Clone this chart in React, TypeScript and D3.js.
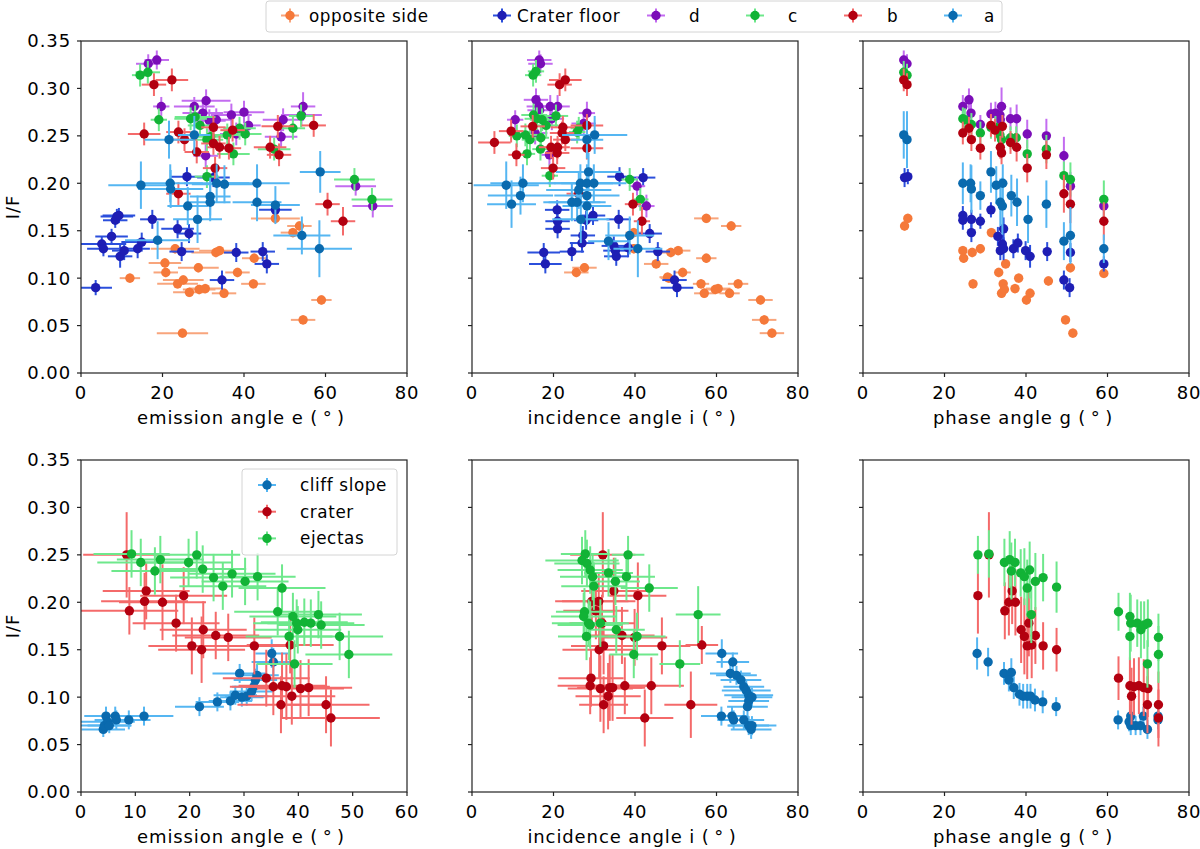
import * as d3 from 'd3';

type Pt = [number, number, number, number]; // x, I/F, xerr, yerr

interface Series {
    label: string;
    marker: string;
    err: string;
    pts: Pt[];
}

// colours
const cOpp = { marker: '#f5793a', err: '#f8a57c' };
const cFloor = { marker: '#1e1eb4', err: '#2b4fdc' };
const cD = { marker: '#7b0db8', err: '#c36cf0' };
const cC = { marker: '#12b336', err: '#6ee88c' };
const cB = { marker: '#b30010', err: '#f46a6a' };
const cA = { marker: '#0a6aae', err: '#55b6f2' };

const yTicks = [0, 0.05, 0.1, 0.15, 0.2, 0.25, 0.3, 0.35];
const xTicks80 = [0, 20, 40, 60, 80];
const xTicks60 = [0, 10, 20, 30, 40, 50, 60];

// ---------- top row : emission angle ----------
const emOpposite: Pt[] = [
    [12.0, 0.100, 2.5, 0.005], [20.6, 0.116, 4, 0.005], [20.8, 0.106, 3, 0.005], [23.1, 0.131, 6, 0.005],
    [23.7, 0.094, 5, 0.005], [25.1, 0.098, 5, 0.005], [26.6, 0.085, 4, 0.005], [28.8, 0.111, 5, 0.005],
    [29.0, 0.088, 4, 0.005], [30.5, 0.089, 4, 0.005], [33.1, 0.127, 6, 0.005], [34.0, 0.129, 5, 0.005],
    [35.1, 0.084, 3, 0.005], [38.4, 0.106, 3, 0.005], [42.3, 0.094, 3, 0.005], [42.5, 0.121, 3, 0.005],
    [47.7, 0.163, 6, 0.005], [52.0, 0.148, 3, 0.005], [53.6, 0.155, 3, 0.005], [54.5, 0.056, 3, 0.005],
    [59.0, 0.077, 2.5, 0.005], [24.9, 0.042, 6.3, 0.005],
];
const emFloor: Pt[] = [
    [3.6, 0.090, 4, 0.008], [5.1, 0.136, 6, 0.008], [5.5, 0.131, 4, 0.008], [7.5, 0.144, 4, 0.008],
    [8.4, 0.161, 3, 0.008], [8.8, 0.165, 4, 0.008], [9.3, 0.166, 4, 0.008], [9.6, 0.123, 3, 0.012],
    [10.6, 0.129, 3, 0.01], [13.9, 0.131, 3, 0.01], [14.9, 0.138, 5, 0.01], [17.5, 0.162, 3, 0.01],
    [23.7, 0.152, 4, 0.01], [24.7, 0.128, 3, 0.01], [26.0, 0.207, 4, 0.01], [26.5, 0.147, 3, 0.01],
    [32.5, 0.206, 4, 0.01], [34.6, 0.098, 3, 0.01], [38.1, 0.127, 3, 0.01], [44.6, 0.128, 3, 0.01],
    [45.6, 0.115, 3, 0.01], [47.7, 0.172, 4, 0.01],
];
const emD: Pt[] = [
    [16.5, 0.326, 3, 0.01], [18.6, 0.330, 3, 0.01], [19.7, 0.281, 2, 0.01], [27.8, 0.281, 5, 0.01],
    [30.7, 0.287, 6, 0.012], [29.9, 0.274, 5, 0.012], [31.5, 0.266, 4, 0.012], [33.2, 0.267, 4, 0.012],
    [36.9, 0.272, 5, 0.012], [40.0, 0.275, 5, 0.012], [41.1, 0.261, 3, 0.012], [38.1, 0.252, 4, 0.012],
    [30.6, 0.229, 3, 0.012], [49.6, 0.267, 5, 0.012], [49.1, 0.249, 4, 0.012], [54.1, 0.272, 5, 0.012],
    [54.5, 0.281, 3, 0.015], [67.4, 0.197, 5, 0.01], [71.6, 0.176, 5, 0.012],
];
const emC: Pt[] = [
    [14.5, 0.314, 2, 0.012], [16.4, 0.317, 3, 0.012], [19.1, 0.267, 2, 0.012], [26.9, 0.268, 4, 0.012],
    [28.0, 0.270, 5, 0.012], [29.2, 0.261, 3, 0.012], [30.9, 0.246, 4, 0.012], [31.8, 0.249, 4, 0.012],
    [35.9, 0.251, 4, 0.012], [38.9, 0.258, 4, 0.012], [40.3, 0.252, 4, 0.012], [37.4, 0.231, 4, 0.012],
    [47.4, 0.236, 4, 0.012], [52.0, 0.258, 3, 0.012], [54.0, 0.271, 3, 0.012], [30.9, 0.207, 3, 0.012],
    [67.1, 0.204, 5, 0.012], [71.4, 0.183, 5, 0.012],
];
const emB: Pt[] = [
    [17.9, 0.304, 3, 0.012], [22.3, 0.309, 4, 0.012], [15.5, 0.252, 4, 0.012], [23.9, 0.254, 3, 0.012],
    [25.4, 0.246, 3, 0.012], [28.4, 0.233, 3, 0.012], [32.5, 0.259, 3, 0.012], [32.5, 0.242, 3, 0.012],
    [34.0, 0.238, 3, 0.012], [36.3, 0.237, 3, 0.012], [37.2, 0.256, 3, 0.012], [32.9, 0.216, 3, 0.012],
    [23.9, 0.189, 3, 0.012], [48.3, 0.260, 4, 0.012], [46.4, 0.238, 4, 0.012], [48.6, 0.230, 3, 0.012],
    [57.1, 0.261, 3, 0.012], [60.5, 0.178, 3, 0.012], [64.3, 0.160, 3, 0.015],
];
const emA: Pt[] = [
    [21.6, 0.246, 6, 0.02], [27.8, 0.251, 4, 0.02], [14.7, 0.198, 8, 0.025], [21.9, 0.200, 8, 0.02],
    [22.0, 0.194, 8, 0.02], [26.2, 0.176, 5, 0.02], [28.6, 0.162, 6, 0.025], [18.8, 0.140, 8, 0.02],
    [31.7, 0.186, 5, 0.02], [31.7, 0.180, 5, 0.02], [33.3, 0.200, 8, 0.02], [35.2, 0.199, 8, 0.02],
    [43.2, 0.200, 8, 0.02], [43.2, 0.180, 6, 0.02], [47.7, 0.177, 6, 0.02], [58.7, 0.212, 5, 0.022],
    [54.2, 0.145, 7, 0.02], [58.5, 0.131, 8, 0.03],
];

// ---------- top row : incidence angle ----------
const inOpposite: Pt[] = [
    [57.5, 0.163, 3, 0.005], [63.6, 0.155, 2.5, 0.005], [57.5, 0.121, 2.5, 0.005], [48.8, 0.127, 3, 0.005],
    [50.6, 0.129, 3, 0.005], [39.7, 0.148, 2, 0.005], [39.7, 0.131, 2, 0.005], [45.2, 0.115, 3, 0.005],
    [48.3, 0.100, 2, 0.005], [51.7, 0.106, 2, 0.005], [25.6, 0.106, 3, 0.005], [27.6, 0.111, 3, 0.005],
    [56.2, 0.094, 2, 0.005], [57.0, 0.084, 2.5, 0.005], [59.7, 0.088, 3, 0.005], [60.4, 0.089, 3, 0.005],
    [63.2, 0.084, 2.5, 0.005], [65.3, 0.094, 2.5, 0.005], [70.8, 0.077, 3, 0.005], [71.7, 0.056, 3, 0.005],
    [73.6, 0.042, 3, 0.005], [48.0, 0.101, 2, 0.005],
];
const inFloor: Pt[] = [
    [20.9, 0.172, 3, 0.01], [21.0, 0.160, 3, 0.01], [21.0, 0.152, 3, 0.01], [36.2, 0.207, 3, 0.01],
    [42.0, 0.206, 3, 0.01], [29.7, 0.166, 3, 0.01], [28.0, 0.161, 3, 0.01], [36.0, 0.162, 3, 0.01],
    [27.2, 0.145, 3, 0.01], [27.0, 0.137, 3, 0.01], [43.6, 0.147, 3, 0.01], [17.6, 0.127, 4, 0.01],
    [18.0, 0.115, 4, 0.01], [24.5, 0.128, 3, 0.01], [34.8, 0.134, 3, 0.01], [35.2, 0.129, 3, 0.01],
    [35.4, 0.123, 3, 0.01], [38.3, 0.132, 3, 0.01], [45.6, 0.128, 3, 0.01], [49.7, 0.098, 3, 0.01],
    [50.3, 0.090, 4, 0.01],
];
const inD: Pt[] = [
    [16.5, 0.330, 3, 0.01], [16.8, 0.326, 3, 0.01], [10.6, 0.267, 2, 0.01], [15.7, 0.288, 3, 0.012],
    [16.4, 0.281, 3, 0.012], [16.6, 0.277, 3, 0.012], [19.2, 0.281, 2, 0.012], [21.0, 0.281, 3, 0.012],
    [19.6, 0.268, 3, 0.012], [28.2, 0.274, 2, 0.012], [27.4, 0.263, 3, 0.012], [15.5, 0.253, 3, 0.012],
    [19.0, 0.230, 2, 0.012], [40.5, 0.197, 2, 0.01], [42.8, 0.176, 2, 0.012],
];
const inC: Pt[] = [
    [15.0, 0.314, 2, 0.012], [15.7, 0.318, 2, 0.012], [15.1, 0.272, 3, 0.012], [15.9, 0.268, 3, 0.012],
    [17.2, 0.267, 3, 0.012], [18.2, 0.261, 3, 0.012], [20.6, 0.271, 3, 0.012], [11.0, 0.250, 2, 0.012],
    [13.1, 0.251, 3, 0.012], [14.2, 0.246, 2, 0.012], [16.9, 0.248, 2, 0.012], [16.8, 0.236, 2, 0.012],
    [13.5, 0.231, 2, 0.012], [19.1, 0.208, 2, 0.012], [25.8, 0.254, 2, 0.012], [26.2, 0.258, 2, 0.012],
    [38.7, 0.204, 2, 0.012], [41.3, 0.183, 2, 0.012],
];
const inB: Pt[] = [
    [21.5, 0.304, 3, 0.012], [22.9, 0.309, 4, 0.012], [5.5, 0.243, 4, 0.012], [9.6, 0.255, 3, 0.012],
    [10.9, 0.230, 2, 0.012], [14.9, 0.260, 3, 0.012], [22.3, 0.259, 3, 0.012], [22.1, 0.253, 3, 0.012],
    [22.9, 0.246, 3, 0.012], [19.4, 0.238, 3, 0.012], [21.0, 0.238, 3, 0.012], [20.9, 0.232, 3, 0.012],
    [19.9, 0.216, 3, 0.012], [28.2, 0.261, 4, 0.012], [28.2, 0.237, 4, 0.012], [26.2, 0.189, 3, 0.012],
    [39.5, 0.178, 2, 0.012], [41.7, 0.160, 2, 0.015],
];
const inA: Pt[] = [
    [28.2, 0.246, 4, 0.02], [30.1, 0.251, 8, 0.02], [8.4, 0.198, 8, 0.025], [12.5, 0.200, 8, 0.02],
    [11.9, 0.187, 8, 0.02], [9.7, 0.178, 6, 0.025], [28.6, 0.212, 8, 0.02], [26.6, 0.200, 8, 0.02],
    [26.2, 0.193, 8, 0.02], [28.2, 0.200, 8, 0.02], [29.9, 0.200, 8, 0.02], [28.2, 0.187, 8, 0.02],
    [24.5, 0.180, 7, 0.02], [25.8, 0.180, 7, 0.02], [28.2, 0.176, 6, 0.02], [26.7, 0.162, 7, 0.025],
    [38.7, 0.145, 6, 0.02], [33.5, 0.139, 5, 0.02], [40.7, 0.131, 6, 0.03],
];

// ---------- top row : phase angle ----------
const phOpposite: Pt[] = [
    [10.2, 0.155, 0.5, 0.005], [11.0, 0.163, 0.5, 0.005], [24.5, 0.129, 0.5, 0.005], [24.7, 0.121, 0.5, 0.005],
    [26.8, 0.127, 0.5, 0.005], [28.8, 0.131, 0.5, 0.005], [27.0, 0.094, 0.5, 0.005], [31.5, 0.148, 0.5, 0.005],
    [33.3, 0.106, 0.5, 0.005], [35.0, 0.115, 0.5, 0.005], [34.4, 0.094, 0.5, 0.005], [34.0, 0.084, 0.5, 0.005],
    [34.7, 0.088, 0.5, 0.005], [37.3, 0.089, 0.5, 0.005], [38.2, 0.100, 0.5, 0.005], [40.1, 0.077, 0.5, 0.005],
    [41.0, 0.084, 0.5, 0.005], [45.5, 0.097, 0.5, 0.005], [50.9, 0.111, 0.5, 0.005], [49.7, 0.056, 0.5, 0.005],
    [51.5, 0.042, 0.5, 0.005], [59.1, 0.105, 0.5, 0.005],
];
const phFloor: Pt[] = [
    [10.2, 0.206, 0.5, 0.01], [11.0, 0.207, 0.5, 0.008], [24.5, 0.166, 0.5, 0.01], [24.5, 0.161, 0.5, 0.01],
    [26.6, 0.162, 0.5, 0.01], [26.6, 0.148, 0.5, 0.01], [28.8, 0.160, 0.5, 0.008], [31.4, 0.172, 0.5, 0.008],
    [33.1, 0.144, 0.5, 0.01], [34.5, 0.152, 0.5, 0.012], [33.7, 0.129, 0.5, 0.01], [34.2, 0.136, 0.5, 0.01],
    [34.5, 0.131, 0.5, 0.012], [36.9, 0.131, 0.5, 0.01], [38.0, 0.137, 0.5, 0.01], [39.9, 0.129, 0.5, 0.01],
    [41.0, 0.123, 0.5, 0.012], [45.2, 0.128, 0.5, 0.01], [49.3, 0.098, 0.5, 0.01], [50.9, 0.127, 0.5, 0.01],
    [50.7, 0.090, 0.5, 0.01], [59.1, 0.115, 0.5, 0.008],
];
const phD: Pt[] = [
    [10.0, 0.330, 0.5, 0.01], [10.8, 0.326, 0.5, 0.01], [24.5, 0.281, 0.5, 0.012], [26.0, 0.288, 0.5, 0.012],
    [26.5, 0.274, 0.5, 0.012], [28.8, 0.262, 0.5, 0.01], [31.4, 0.273, 0.5, 0.012], [32.5, 0.274, 0.5, 0.012],
    [33.6, 0.272, 0.5, 0.012], [34.0, 0.281, 0.5, 0.02], [33.7, 0.267, 0.5, 0.015], [36.2, 0.268, 0.5, 0.012],
    [37.7, 0.268, 0.5, 0.015], [40.3, 0.252, 0.5, 0.015], [45.0, 0.250, 0.5, 0.018], [49.3, 0.229, 0.5, 0.02],
    [50.9, 0.197, 0.5, 0.015], [59.1, 0.176, 0.5, 0.012],
];
const phC: Pt[] = [
    [10.0, 0.317, 0.5, 0.012], [10.8, 0.314, 0.5, 0.012], [24.5, 0.268, 0.5, 0.012], [25.0, 0.267, 0.5, 0.012],
    [26.6, 0.262, 0.5, 0.012], [28.8, 0.253, 0.5, 0.012], [31.4, 0.259, 0.5, 0.012], [32.5, 0.259, 0.5, 0.012],
    [33.6, 0.251, 0.5, 0.012], [34.0, 0.246, 0.5, 0.012], [36.2, 0.248, 0.5, 0.012], [37.6, 0.248, 0.5, 0.012],
    [40.3, 0.231, 0.5, 0.015], [45.0, 0.236, 0.5, 0.015], [49.3, 0.208, 0.5, 0.015], [50.9, 0.204, 0.5, 0.018],
    [59.1, 0.183, 0.5, 0.02],
];
const phB: Pt[] = [
    [10.0, 0.309, 0.5, 0.012], [10.8, 0.304, 0.5, 0.012], [24.5, 0.253, 0.5, 0.012], [26.0, 0.258, 0.5, 0.012],
    [26.6, 0.246, 0.5, 0.012], [28.8, 0.237, 0.5, 0.012], [31.4, 0.261, 0.5, 0.012], [32.4, 0.256, 0.5, 0.012],
    [33.7, 0.238, 0.5, 0.012], [34.0, 0.232, 0.5, 0.012], [34.2, 0.260, 0.5, 0.012], [36.2, 0.243, 0.5, 0.012],
    [37.7, 0.238, 0.5, 0.015], [40.3, 0.216, 0.5, 0.015], [45.0, 0.230, 0.5, 0.015], [49.3, 0.189, 0.5, 0.02],
    [50.9, 0.178, 0.5, 0.02], [59.1, 0.160, 0.5, 0.02],
];
const phA: Pt[] = [
    [10.0, 0.251, 0.5, 0.025], [10.8, 0.246, 0.5, 0.03], [24.5, 0.200, 0.5, 0.022], [26.4, 0.200, 0.5, 0.02],
    [26.6, 0.194, 0.5, 0.025], [28.8, 0.187, 0.5, 0.015], [31.4, 0.212, 0.5, 0.022], [32.7, 0.198, 0.5, 0.02],
    [34.3, 0.200, 0.5, 0.02], [33.7, 0.180, 0.5, 0.025], [34.2, 0.176, 0.5, 0.03], [36.4, 0.187, 0.5, 0.022],
    [37.8, 0.180, 0.5, 0.025], [40.5, 0.162, 0.5, 0.025], [45.0, 0.178, 0.5, 0.025], [49.3, 0.139, 0.5, 0.02],
    [50.9, 0.145, 0.5, 0.03], [59.1, 0.131, 0.5, 0.015],
];

// ---------- bottom row : emission angle ----------
const emCliff: Pt[] = [
    [4.1, 0.066, 4, 0.008], [4.3, 0.070, 5, 0.008], [4.6, 0.080, 4, 0.01], [4.9, 0.074, 5, 0.01],
    [5.2, 0.070, 4, 0.008], [6.3, 0.080, 4, 0.01], [6.5, 0.076, 4, 0.01], [8.8, 0.076, 4, 0.01],
    [11.6, 0.080, 5.4, 0.01], [21.8, 0.090, 4.5, 0.01], [25.1, 0.095, 4, 0.01], [27.5, 0.096, 4, 0.01],
    [28.4, 0.102, 4, 0.01], [29.2, 0.125, 5, 0.01], [29.6, 0.100, 4, 0.01], [30.5, 0.101, 4, 0.01],
    [31.4, 0.106, 4, 0.01], [31.8, 0.111, 4, 0.01], [32.1, 0.118, 4, 0.012], [32.4, 0.123, 4, 0.012],
    [35.1, 0.146, 3, 0.015], [35.4, 0.137, 4, 0.015],
];
const emCrater: Pt[] = [
    [8.4, 0.250, 8, 0.045], [8.9, 0.191, 9, 0.025], [12.0, 0.212, 8, 0.03], [11.7, 0.201, 8, 0.03],
    [15.0, 0.200, 8, 0.04], [17.5, 0.178, 8, 0.03], [18.9, 0.207, 8, 0.03], [20.4, 0.154, 8, 0.03],
    [22.2, 0.150, 8, 0.035], [22.5, 0.171, 8, 0.03], [24.8, 0.165, 8, 0.025], [27.1, 0.163, 8, 0.025],
    [31.9, 0.154, 8, 0.03], [34.1, 0.120, 8, 0.03], [35.4, 0.111, 8, 0.03], [37.0, 0.112, 8, 0.035],
    [37.8, 0.111, 8, 0.035], [36.8, 0.092, 8, 0.03], [38.5, 0.155, 8, 0.03], [38.8, 0.101, 8, 0.03],
    [40.4, 0.109, 8, 0.03], [41.9, 0.110, 8, 0.03], [45.1, 0.092, 8, 0.03], [46.0, 0.078, 9, 0.03],
];
const emEjecta: Pt[] = [
    [9.3, 0.251, 7, 0.025], [11.0, 0.242, 8, 0.025], [13.6, 0.233, 8, 0.025], [14.6, 0.245, 8, 0.025],
    [19.8, 0.242, 8, 0.025], [21.3, 0.250, 8, 0.025], [22.4, 0.235, 8, 0.025], [24.4, 0.226, 8, 0.025],
    [26.1, 0.217, 8, 0.025], [27.8, 0.230, 8, 0.025], [30.2, 0.222, 8, 0.025], [32.5, 0.227, 7, 0.025],
    [37.0, 0.215, 8, 0.025], [36.2, 0.190, 8, 0.025], [39.0, 0.185, 8, 0.025], [39.7, 0.178, 8, 0.025],
    [39.9, 0.171, 8, 0.025], [41.1, 0.179, 8, 0.025], [42.3, 0.178, 8, 0.025], [43.7, 0.187, 8, 0.025],
    [44.2, 0.176, 8, 0.025], [38.3, 0.164, 8, 0.025], [47.6, 0.164, 8, 0.025], [49.3, 0.145, 8, 0.025],
    [39.3, 0.135, 7, 0.025],
];

// ---------- bottom row : incidence angle ----------
const inCliff: Pt[] = [
    [61.3, 0.146, 4, 0.015], [64.0, 0.137, 4, 0.01], [63.4, 0.125, 5, 0.01], [64.9, 0.123, 5, 0.01],
    [66.0, 0.118, 5, 0.01], [66.7, 0.111, 5, 0.01], [67.3, 0.107, 6, 0.01], [67.9, 0.102, 6, 0.01],
    [68.7, 0.100, 5, 0.01], [67.9, 0.096, 5, 0.01], [67.6, 0.090, 5, 0.01], [61.2, 0.080, 5, 0.01],
    [63.8, 0.080, 4, 0.01], [64.2, 0.076, 4, 0.01], [66.7, 0.076, 5, 0.01], [67.9, 0.070, 5, 0.01],
    [68.5, 0.066, 5, 0.01], [68.7, 0.070, 6, 0.01],
];
const inCrater: Pt[] = [
    [32.1, 0.250, 8, 0.045], [34.8, 0.212, 8, 0.035], [40.7, 0.207, 7, 0.035], [29.4, 0.201, 9, 0.03],
    [31.1, 0.201, 9, 0.03], [30.4, 0.191, 8, 0.03], [31.9, 0.178, 8, 0.03], [36.8, 0.165, 8, 0.03],
    [39.9, 0.163, 8, 0.03], [31.2, 0.150, 9, 0.03], [32.3, 0.154, 8, 0.03], [46.6, 0.154, 7, 0.03],
    [56.4, 0.155, 4, 0.02], [29.2, 0.120, 8, 0.03], [29.0, 0.112, 8, 0.03], [31.5, 0.109, 8, 0.035],
    [33.8, 0.110, 8, 0.035], [34.5, 0.110, 8, 0.035], [37.5, 0.112, 8, 0.03], [44.0, 0.112, 8, 0.03],
    [33.4, 0.101, 8, 0.035], [32.3, 0.092, 6, 0.03], [53.7, 0.092, 6.5, 0.035], [42.4, 0.078, 7, 0.03],
];
const inEjecta: Pt[] = [
    [27.8, 0.251, 6, 0.025], [27.0, 0.244, 9, 0.025], [28.2, 0.241, 8, 0.025], [29.0, 0.234, 8, 0.025],
    [29.6, 0.227, 8, 0.025], [29.9, 0.217, 8, 0.025], [38.3, 0.250, 4, 0.02], [33.5, 0.231, 6, 0.025],
    [35.2, 0.222, 6, 0.025], [37.9, 0.227, 7, 0.025], [43.5, 0.215, 7, 0.025], [27.6, 0.190, 7, 0.025],
    [27.4, 0.185, 8, 0.025], [28.6, 0.178, 9, 0.025], [29.0, 0.176, 8, 0.025], [31.5, 0.178, 7, 0.025],
    [28.1, 0.164, 7, 0.025], [35.4, 0.171, 7, 0.025], [40.5, 0.164, 7, 0.025], [39.7, 0.145, 6, 0.025],
    [51.0, 0.135, 5, 0.025], [55.5, 0.187, 5.5, 0.03],
];

// ---------- bottom row : phase angle ----------
const phCliff: Pt[] = [
    [28.0, 0.146, 0.5, 0.017], [30.7, 0.137, 0.5, 0.015], [34.6, 0.125, 0.5, 0.012], [36.4, 0.126, 0.5, 0.015],
    [35.8, 0.118, 0.5, 0.012], [37.0, 0.110, 0.5, 0.012], [38.4, 0.103, 0.5, 0.012], [39.3, 0.101, 0.5, 0.013],
    [40.3, 0.101, 0.5, 0.013], [41.1, 0.101, 0.5, 0.013], [42.2, 0.097, 0.5, 0.012], [44.1, 0.095, 0.5, 0.012],
    [47.4, 0.090, 0.5, 0.01], [62.6, 0.076, 0.5, 0.01], [65.3, 0.074, 0.5, 0.01], [65.7, 0.080, 0.5, 0.012],
    [65.7, 0.070, 0.5, 0.01], [66.9, 0.070, 0.5, 0.01], [68.1, 0.070, 0.5, 0.01], [68.8, 0.080, 0.5, 0.01],
    [69.8, 0.066, 0.5, 0.01], [72.4, 0.076, 0.5, 0.01], [72.4, 0.080, 0.5, 0.01],
];
const phCrater: Pt[] = [
    [28.2, 0.207, 0.5, 0.04], [30.9, 0.250, 0.5, 0.045], [34.8, 0.191, 0.5, 0.03], [35.8, 0.200, 0.5, 0.035],
    [36.6, 0.212, 0.5, 0.035], [37.4, 0.200, 0.5, 0.035], [38.8, 0.171, 0.5, 0.035], [39.6, 0.164, 0.5, 0.04],
    [40.7, 0.178, 0.5, 0.035], [40.3, 0.154, 0.5, 0.035], [41.4, 0.155, 0.5, 0.035], [42.3, 0.165, 0.5, 0.03],
    [44.2, 0.154, 0.5, 0.025], [47.5, 0.150, 0.5, 0.023], [62.7, 0.120, 0.5, 0.023], [65.5, 0.112, 0.5, 0.03],
    [66.5, 0.111, 0.5, 0.03], [67.7, 0.112, 0.5, 0.03], [68.9, 0.110, 0.5, 0.03], [69.9, 0.109, 0.5, 0.03],
    [65.9, 0.101, 0.5, 0.03], [69.8, 0.092, 0.5, 0.03], [72.5, 0.092, 0.5, 0.035], [72.5, 0.078, 0.5, 0.03],
];
const phEjecta: Pt[] = [
    [28.2, 0.250, 0.5, 0.02], [30.9, 0.251, 0.5, 0.025], [34.7, 0.242, 0.5, 0.025], [36.0, 0.245, 0.5, 0.03],
    [37.3, 0.242, 0.5, 0.025], [36.4, 0.233, 0.5, 0.03], [38.7, 0.231, 0.5, 0.025], [39.6, 0.227, 0.5, 0.03],
    [40.9, 0.234, 0.5, 0.03], [42.3, 0.222, 0.5, 0.03], [44.2, 0.226, 0.5, 0.025], [40.3, 0.215, 0.5, 0.03],
    [47.5, 0.216, 0.5, 0.027], [41.3, 0.187, 0.5, 0.03], [62.7, 0.190, 0.5, 0.02], [65.5, 0.185, 0.5, 0.025],
    [65.7, 0.178, 0.5, 0.03], [67.3, 0.178, 0.5, 0.025], [68.2, 0.171, 0.5, 0.03], [69.0, 0.176, 0.5, 0.025],
    [69.9, 0.178, 0.5, 0.025], [65.5, 0.164, 0.5, 0.025], [72.5, 0.163, 0.5, 0.025], [72.5, 0.145, 0.5, 0.03],
    [69.8, 0.135, 0.5, 0.025],
];

const topSeries = (opp: Pt[], floor: Pt[], d: Pt[], c: Pt[], b: Pt[], a: Pt[]): Series[] => [
    { label: 'opposite side', ...cOpp, pts: opp },
    { label: 'Crater floor', ...cFloor, pts: floor },
    { label: 'd', ...cD, pts: d },
    { label: 'c', ...cC, pts: c },
    { label: 'b', ...cB, pts: b },
    { label: 'a', ...cA, pts: a },
];
const bottomSeries = (cliff: Pt[], crater: Pt[], ejecta: Pt[]): Series[] => [
    { label: 'cliff slope', ...cA, pts: cliff },
    { label: 'crater', ...cB, pts: crater },
    { label: 'ejectas', ...cC, pts: ejecta },
];

const FONT = 'DejaVu Sans, Verdana, sans-serif';
const PW = 326;
const PH = 332;
const COLS = [81, 472, 863];
const ROWS = [41, 460];
const DEG = '(\u2009°\u2009)';
const FS = 18;
const LS = 0.9;

interface PanelDef {
    left: number;
    top: number;
    xMax: number;
    xTicks: number[];
    xLabel: string;
    yLabels: boolean;
    series: Series[];
}

const panels: PanelDef[] = [
    { left: COLS[0], top: ROWS[0], xMax: 80, xTicks: xTicks80, xLabel: `emission angle e ${DEG}`, yLabels: true, series: topSeries(emOpposite, emFloor, emD, emC, emB, emA) },
    { left: COLS[1], top: ROWS[0], xMax: 80, xTicks: xTicks80, xLabel: `incidence angle i ${DEG}`, yLabels: false, series: topSeries(inOpposite, inFloor, inD, inC, inB, inA) },
    { left: COLS[2], top: ROWS[0], xMax: 80, xTicks: xTicks80, xLabel: `phase angle g ${DEG}`, yLabels: false, series: topSeries(phOpposite, phFloor, phD, phC, phB, phA) },
    { left: COLS[0], top: ROWS[1], xMax: 60, xTicks: xTicks60, xLabel: `emission angle e ${DEG}`, yLabels: true, series: bottomSeries(emCliff, emCrater, emEjecta) },
    { left: COLS[1], top: ROWS[1], xMax: 80, xTicks: xTicks80, xLabel: `incidence angle i ${DEG}`, yLabels: false, series: bottomSeries(inCliff, inCrater, inEjecta) },
    { left: COLS[2], top: ROWS[1], xMax: 80, xTicks: xTicks80, xLabel: `phase angle g ${DEG}`, yLabels: false, series: bottomSeries(phCliff, phCrater, phEjecta) },
];

const fmtY = d3.format('.2f');
const R = 4.7;

function Handle({ x, y, s }: { x: number; y: number; s: { marker: string; err: string } }) {
    return (
        <g>
            <line x1={x - 9} x2={x + 9} y1={y} y2={y} stroke={s.err} strokeWidth={2} />
            <line x1={x} x2={x} y1={y - 7} y2={y + 7} stroke={s.err} strokeWidth={2} />
            <circle cx={x} cy={y} r={R} fill={s.marker} />
        </g>
    );
}

function Panel({ p, idx }: { p: PanelDef; idx: number }) {
    const x = d3.scaleLinear().domain([0, p.xMax]).range([p.left, p.left + PW]);
    const y = d3.scaleLinear().domain([0, 0.35]).range([p.top + PH, p.top]);
    const bottom = p.top + PH;
    const clipId = `clip-${idx}`;
    return (
        <g>
            <defs>
                <clipPath id={clipId}>
                    <rect x={p.left} y={p.top} width={PW} height={PH} />
                </clipPath>
            </defs>
            <g clipPath={`url(#${clipId})`}>
                {p.series.map((s, si) => (
                    <g key={si}>
                        {s.pts.map((d, i) => (
                            <g key={i}>
                                <line x1={x(d[0] - d[2])} x2={x(d[0] + d[2])} y1={y(d[1])} y2={y(d[1])} stroke={s.err} strokeWidth={2} />
                                <line x1={x(d[0])} x2={x(d[0])} y1={y(d[1] - d[3])} y2={y(d[1] + d[3])} stroke={s.err} strokeWidth={2} />
                            </g>
                        ))}
                        {s.pts.map((d, i) => (
                            <circle key={'m' + i} cx={x(d[0])} cy={y(d[1])} r={R} fill={s.marker} />
                        ))}
                    </g>
                ))}
            </g>
            <rect x={p.left} y={p.top} width={PW} height={PH} fill="none" stroke="#222" strokeWidth={1.2} />
            {p.xTicks.map(t => (
                <g key={'x' + t}>
                    <line x1={x(t)} x2={x(t)} y1={bottom} y2={bottom + 4} stroke="#222" strokeWidth={1.2} />
                    <text x={x(t)} y={bottom + 26} textAnchor="middle" fontSize={FS} letterSpacing={LS}>{t}</text>
                </g>
            ))}
            {yTicks.map(t => (
                <g key={'y' + t}>
                    <line x1={p.left - 4} x2={p.left} y1={y(t)} y2={y(t)} stroke="#222" strokeWidth={1.2} />
                    {p.yLabels && (
                        <text x={p.left - 10} y={y(t)} dy="0.36em" textAnchor="end" fontSize={FS} letterSpacing={LS}>{fmtY(t)}</text>
                    )}
                </g>
            ))}
            <text x={p.left + PW / 2 - 3} y={bottom + 51} textAnchor="middle" fontSize={FS} letterSpacing={LS}>{p.xLabel}</text>
            {p.yLabels && (
                <text transform={`translate(19,${p.top + PH / 2}) rotate(-90)`} textAnchor="middle" fontSize={FS} letterSpacing={LS}>I/F</text>
            )}
        </g>
    );
}

const topLegend = [
    { label: 'opposite side', s: cOpp, hx: 290, tx: 309 },
    { label: 'Crater floor', s: cFloor, hx: 502, tx: 517 },
    { label: 'd', s: cD, hx: 656, tx: 689 },
    { label: 'c', s: cC, hx: 755, tx: 788 },
    { label: 'b', s: cB, hx: 853, tx: 887 },
    { label: 'a', s: cA, hx: 953, tx: 984 },
];
const bottomLegend = [
    { label: 'cliff slope', s: cA },
    { label: 'crater', s: cB },
    { label: 'ejectas', s: cC },
];

export default function App() {
    return (
        <svg width={1200} height={849} style={{ position: 'absolute', left: 0, top: 0, background: '#fff' }} fontFamily={FONT}>
            {panels.map((p, i) => <Panel key={i} p={p} idx={i} />)}

            {/* top legend */}
            <rect x={266} y={1} width={736} height={31} rx={3} fill="#fff" fillOpacity={0.8} stroke="#d4d4d4" strokeWidth={1} />
            {topLegend.map(l => (
                <g key={l.label}>
                    <Handle x={l.hx} y={15.5} s={l.s} />
                    <text x={l.tx} y={15.5} dy="0.36em" fontSize={16.8} letterSpacing={0.6}>{l.label}</text>
                </g>
            ))}

            {/* bottom-left legend */}
            <rect x={242} y={469} width={155} height={86} rx={3} fill="#fff" fillOpacity={0.8} stroke="#d4d4d4" strokeWidth={1} />
            {bottomLegend.map((l, i) => (
                <g key={l.label}>
                    <Handle x={267} y={485 + i * 26.7} s={l.s} />
                    <text x={300} y={485 + i * 26.7} dy="0.36em" fontSize={16.8} letterSpacing={0.6}>{l.label}</text>
                </g>
            ))}
        </svg>
    );
}
